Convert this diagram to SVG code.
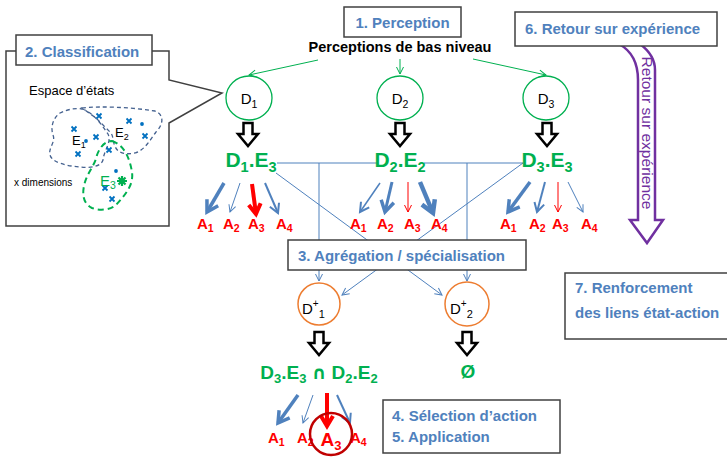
<svg xmlns="http://www.w3.org/2000/svg" xmlns:xlink="http://www.w3.org/1999/xlink" width="727" height="459" viewBox="0 0 727 459">
<style>
  .box{fill:#fff;stroke:#404040;stroke-width:1.5}
  .ttl{font-family:"Liberation Sans",Arial,sans-serif;font-weight:bold;font-size:15px;fill:#4f81bd}
  .blk{fill:#fff;stroke:#000;stroke-width:2.5;stroke-linejoin:miter}
  .dc{fill:#fff;stroke:#00b050;stroke-width:1.3}
  .oc{fill:#fff;stroke:#ed7d31;stroke-width:1.5}
  .dl{font-family:"Liberation Sans",Arial,sans-serif;font-size:15px;fill:#000}
  .de{font-family:"Liberation Sans",Arial,sans-serif;font-weight:bold;font-size:21px;fill:#00b050}
  .a{font-family:"Liberation Sans",Arial,sans-serif;font-weight:bold;font-size:15px;fill:#ff0000}
  .s{font-size:10.5px}
  .s2{font-size:14.5px}
  .ln{fill:none;stroke:#4f81bd;stroke-width:1}
  .xm{stroke:#0070c0;stroke-width:1.8;fill:none}
  .dot{fill:#0070c0}
</style>
<defs>
  <marker id="g" markerUnits="userSpaceOnUse" markerWidth="10" markerHeight="10" refX="0" refY="0" orient="auto" overflow="visible"><path d="M-7,-3.5 L0,0 L-7,3.5" fill="none" stroke="#00b050" stroke-width="1"/></marker>
  <marker id="bt" markerUnits="userSpaceOnUse" markerWidth="10" markerHeight="10" refX="0" refY="0" orient="auto" overflow="visible"><path d="M-7,-3.5 L0,0 L-7,3.5" fill="none" stroke="#4f81bd" stroke-width="1"/></marker>
  <marker id="bm" markerUnits="userSpaceOnUse" markerWidth="10" markerHeight="10" refX="0" refY="0" orient="auto" overflow="visible"><path d="M-9,-5 L0,0 L-9,5" fill="none" stroke="#4f81bd" stroke-width="2"/></marker>
  <marker id="bk" markerUnits="userSpaceOnUse" markerWidth="10" markerHeight="10" refX="0" refY="0" orient="auto" overflow="visible"><path d="M-11,-6.5 L0,0 L-11,6.5" fill="none" stroke="#4f81bd" stroke-width="3.5"/></marker>
  <marker id="bx" markerUnits="userSpaceOnUse" markerWidth="10" markerHeight="10" refX="0" refY="0" orient="auto" overflow="visible"><path d="M-12,-7 L0,0 L-12,7" fill="none" stroke="#4f81bd" stroke-width="4.5"/></marker>
  <marker id="rt" markerUnits="userSpaceOnUse" markerWidth="10" markerHeight="10" refX="0" refY="0" orient="auto" overflow="visible"><path d="M-7,-3.5 L0,0 L-7,3.5" fill="none" stroke="#ff0000" stroke-width="1"/></marker>
  <marker id="rk" markerUnits="userSpaceOnUse" markerWidth="10" markerHeight="10" refX="0" refY="0" orient="auto" overflow="visible"><path d="M-10,-6 L0,0 L-10,6" fill="none" stroke="#ff0000" stroke-width="4"/></marker>
  <path id="ba" d="M-4.5,0 H4.5 V11 H10 L0,23 L-10,11 H-4.5 Z"/>
</defs>
<rect width="727" height="459" fill="#fff"/>

<!-- Classification callout -->
<g id="classification">
  <path class="box" d="M6,51 L169,51 L169,80 L222,93 L169,123 L169,226 L6,226 Z"/>
  <rect class="box" x="16" y="35" width="136" height="30"/>
  <text class="ttl" x="25" y="57">2. Classification</text>
  <text x="29" y="95" font-family="Liberation Sans, Arial, sans-serif" font-size="13" fill="#000">Espace d’états</text>
  <text x="14" y="186" font-family="Liberation Sans, Arial, sans-serif" font-size="10" fill="#000">x dimensions</text>
  <path d="M82,109 C92,112 100,122 108,134 C112,142 104,150 103,160 C101,167 90,168 80,167 C68,166 52,163 50,155 C48,148 56,142 53,135 C50,126 54,117 60,113 C68,109 76,108 82,109 Z" fill="none" stroke="#44618f" stroke-width="1.3" stroke-dasharray="4 3"/>
  <path d="M82,108 C100,106 130,107 155,111 C165,115 163,125 156,132 C150,140 145,150 135,153 C125,155 117,153 115,146 C112,140 114,136 110,132 L96,118 Z" fill="none" stroke="#44618f" stroke-width="1.3" stroke-dasharray="4 3"/>
  <path d="M112,141 C125,145 130,160 132,172 C134,185 125,195 116,205 C110,210 100,211 92,208 C82,203 82,192 85,182 C88,172 95,165 97,155 C100,147 105,141 112,141 Z" fill="none" stroke="#00b050" stroke-width="2" stroke-dasharray="6 4"/>
  <path class="xm" d="M71.5,126.5 l5,5 m0,-5 l-5,5 M96.5,113.5 l5,5 m0,-5 l-5,5 M126.5,118.5 l5,5 m0,-5 l-5,5 M142.5,133.5 l5,5 m0,-5 l-5,5 M93.5,134.5 l5,5 m0,-5 l-5,5 M75.5,151.5 l5,5 m0,-5 l-5,5 M106.5,147.5 l5,5 m0,-5 l-5,5 M102.5,185.5 l5,5 m0,-5 l-5,5 M109.5,196.5 l5,5 m0,-5 l-5,5"/>
  <circle class="dot" cx="86" cy="141" r="1.9"/>
  <circle class="dot" cx="142" cy="124" r="1.9"/>
  <circle class="dot" cx="116" cy="171" r="1.9"/>
  <g stroke="#00b050" stroke-width="2.2">
    <path d="M117,181 h10 M122,176 v10 M118.5,177.5 l7,7 M125.5,177.5 l-7,7"/>
  </g>
  <circle cx="122" cy="181" r="2.5" fill="#00b050"/>
  <text x="72" y="145" font-family="Liberation Sans, Arial, sans-serif" font-size="13" fill="#000">E<tspan font-size="9" dy="3">1</tspan></text>
  <text x="115" y="137" font-family="Liberation Sans, Arial, sans-serif" font-size="13" fill="#000">E<tspan font-size="9" dy="3">2</tspan></text>
  <text x="100" y="186" font-family="Liberation Sans, Arial, sans-serif" font-size="15" fill="#00b050">E<tspan font-size="10.5" dy="3">3</tspan></text>
</g>

<!-- Perception -->
<g id="perception">
  <rect class="box" x="344" y="7" width="117" height="30"/>
  <text class="ttl" x="402.5" y="28" text-anchor="middle">1. Perception</text>
  <text x="400" y="52" text-anchor="middle" font-family="Liberation Sans, Arial, sans-serif" font-weight="bold" font-size="14.5" fill="#000">Perceptions de bas niveau</text>
</g>

<!-- Retour sur experience -->
<g id="retour">
  <path d="M619,44 C630,50 638,62 638,80 L638,220 L630,220 L647,243 L663,220 L655,220 L655,70 C655,58 648,50 640,44 Z" fill="#fff" stroke="#7030a0" stroke-width="2.5" stroke-linejoin="miter"/>
  <text transform="translate(642,133) rotate(90)" text-anchor="middle" font-family="Liberation Sans, Arial, sans-serif" font-size="15" fill="#7030a0" textLength="153" lengthAdjust="spacingAndGlyphs">Retour sur expérience</text>
  <rect class="box" x="515" y="12" width="202" height="34"/>
  <text class="ttl" x="525" y="34">6. Retour sur expérience</text>
</g>

<!-- Renforcement -->
<g id="renforcement">
  <rect class="box" x="565" y="273" width="170" height="66"/>
  <text class="ttl" x="575" y="293">7. Renforcement</text>
  <text class="ttl" x="575" y="318">des liens état-action</text>
</g>

<!-- Connectors -->
<g id="connectors">
  <line x1="318" y1="60" x2="249" y2="75" stroke="#00b050" stroke-width="1" marker-end="url(#g)"/>
  <line x1="400" y1="59" x2="400" y2="74" stroke="#00b050" stroke-width="1" marker-end="url(#g)"/>
  <line x1="473" y1="59" x2="546" y2="75" stroke="#00b050" stroke-width="1" marker-end="url(#g)"/>

  <use href="#ba" xlink:href="#ba" x="248" y="123" class="blk"/>
  <use href="#ba" xlink:href="#ba" x="400" y="123" class="blk"/>
  <use href="#ba" xlink:href="#ba" x="547" y="123" class="blk"/>
  <use href="#ba" xlink:href="#ba" x="319" y="332" class="blk"/>
  <use href="#ba" xlink:href="#ba" x="467" y="332" class="blk"/>

  <!-- D1.E3 actions -->
  <line x1="224" y1="183" x2="207" y2="212" stroke="#4f81bd" stroke-width="3.5" marker-end="url(#bk)"/>
  <line x1="240" y1="183" x2="230" y2="212" stroke="#4f81bd" stroke-width="1" marker-end="url(#bt)"/>
  <line x1="252" y1="184" x2="256" y2="214" stroke="#ff0000" stroke-width="4" marker-end="url(#rk)"/>
  <line x1="265" y1="183" x2="278" y2="213" stroke="#4f81bd" stroke-width="2" marker-end="url(#bm)"/>
  <!-- D2.E2 actions -->
  <line x1="380" y1="183" x2="360" y2="212" stroke="#4f81bd" stroke-width="1.5" marker-end="url(#bm)"/>
  <line x1="392" y1="182" x2="385" y2="212" stroke="#4f81bd" stroke-width="3" marker-end="url(#bk)"/>
  <line x1="408" y1="182" x2="408" y2="212" stroke="#ff0000" stroke-width="1" marker-end="url(#rt)"/>
  <line x1="420" y1="182" x2="433" y2="213" stroke="#4f81bd" stroke-width="4.5" marker-end="url(#bx)"/>
  <!-- D3.E3 actions -->
  <line x1="530" y1="182" x2="508" y2="212" stroke="#4f81bd" stroke-width="3.5" marker-end="url(#bk)"/>
  <line x1="545" y1="182" x2="537" y2="212" stroke="#4f81bd" stroke-width="2" marker-end="url(#bm)"/>
  <line x1="558" y1="182" x2="558" y2="212" stroke="#ff0000" stroke-width="1" marker-end="url(#rt)"/>
  <line x1="568" y1="182" x2="583" y2="212" stroke="#4f81bd" stroke-width="1" marker-end="url(#bt)"/>

  <!-- aggregation links -->
  <line class="ln" x1="277" y1="163" x2="377" y2="163"/>
  <line class="ln" x1="424" y1="163" x2="523" y2="163"/>
  <line class="ln" x1="319" y1="163" x2="319" y2="281" marker-end="url(#bt)"/>
  <line class="ln" x1="467" y1="163" x2="467" y2="281" marker-end="url(#bt)"/>
  <line class="ln" x1="276" y1="173" x2="442" y2="295" marker-end="url(#bt)"/>
  <line class="ln" x1="523" y1="163" x2="342" y2="295" marker-end="url(#bt)"/>

  <!-- selection actions -->
  <line x1="298" y1="395" x2="278" y2="423" stroke="#4f81bd" stroke-width="3.5" marker-end="url(#bk)"/>
  <line x1="313" y1="395" x2="303" y2="423" stroke="#4f81bd" stroke-width="1" marker-end="url(#bt)"/>
  <line x1="327" y1="393" x2="327" y2="426" stroke="#ff0000" stroke-width="4" marker-end="url(#rk)"/>
  <line x1="337" y1="395" x2="350" y2="423" stroke="#4f81bd" stroke-width="2" marker-end="url(#bm)"/>
</g>

<!-- Perception nodes -->
<g id="D1"><ellipse class="dc" cx="249" cy="98" rx="23" ry="22"/><text class="dl" x="249" y="104" text-anchor="middle">D<tspan class="s" dy="4">1</tspan></text></g>
<g id="D2"><ellipse class="dc" cx="400" cy="98" rx="23" ry="22"/><text class="dl" x="400" y="104" text-anchor="middle">D<tspan class="s" dy="4">2</tspan></text></g>
<g id="D3"><ellipse class="dc" cx="546" cy="98" rx="23" ry="22"/><text class="dl" x="546" y="104" text-anchor="middle">D<tspan class="s" dy="4">3</tspan></text></g>

<!-- State labels -->
<g id="D1E3"><text class="de" x="251" y="167" text-anchor="middle">D<tspan class="s2" dy="5">1</tspan><tspan dy="-5">.E</tspan><tspan class="s2" dy="5">3</tspan></text></g>
<g id="D2E2"><text class="de" x="400" y="167" text-anchor="middle">D<tspan class="s2" dy="5">2</tspan><tspan dy="-5">.E</tspan><tspan class="s2" dy="5">2</tspan></text></g>
<g id="D3E3"><text class="de" x="547" y="167" text-anchor="middle">D<tspan class="s2" dy="5">3</tspan><tspan dy="-5">.E</tspan><tspan class="s2" dy="5">3</tspan></text></g>

<!-- Action labels -->
<g id="actions1">
  <text class="a" x="197" y="229">A<tspan class="s" dy="3">1</tspan></text>
  <text class="a" x="223" y="229">A<tspan class="s" dy="3">2</tspan></text>
  <text class="a" x="248" y="229">A<tspan class="s" dy="3">3</tspan></text>
  <text class="a" x="276" y="229">A<tspan class="s" dy="3">4</tspan></text>
</g>
<g id="actions2">
  <text class="a" x="350" y="229">A<tspan class="s" dy="3">1</tspan></text>
  <text class="a" x="377" y="229">A<tspan class="s" dy="3">2</tspan></text>
  <text class="a" x="404" y="229">A<tspan class="s" dy="3">3</tspan></text>
  <text class="a" x="431" y="229">A<tspan class="s" dy="3">4</tspan></text>
</g>
<g id="actions3">
  <text class="a" x="500" y="229">A<tspan class="s" dy="3">1</tspan></text>
  <text class="a" x="529" y="229">A<tspan class="s" dy="3">2</tspan></text>
  <text class="a" x="552" y="229">A<tspan class="s" dy="3">3</tspan></text>
  <text class="a" x="581" y="229">A<tspan class="s" dy="3">4</tspan></text>
</g>

<!-- Aggregation -->
<g id="aggregation">
  <rect class="box" x="288" y="240" width="238" height="30"/>
  <text class="ttl" x="298" y="261">3. Agrégation / spécialisation</text>
</g>

<g id="Dplus1"><circle class="oc" cx="319" cy="304" r="21"/><text class="dl" x="302" y="314">D<tspan font-size="10" dy="-7">+</tspan><tspan font-size="11" dy="11">1</tspan></text></g>
<g id="Dplus2"><circle class="oc" cx="467" cy="304" r="22"/><text class="dl" x="450" y="314">D<tspan font-size="10" dy="-7">+</tspan><tspan font-size="11" dy="11">2</tspan></text></g>

<g id="intersection"><text class="de" x="319" y="379" text-anchor="middle" style="font-size:19px">D<tspan font-size="13" dy="4">3</tspan><tspan dy="-4">.E</tspan><tspan font-size="13" dy="4">3</tspan><tspan dy="-4"> </tspan><tspan font-family="DejaVu Sans, sans-serif" font-size="18">∩</tspan><tspan> D</tspan><tspan font-size="13" dy="4">2</tspan><tspan dy="-4">.E</tspan><tspan font-size="13" dy="4">2</tspan></text></g>
<g id="empty"><text class="de" x="468" y="378" text-anchor="middle" style="font-size:19px">Ø</text></g>

<g id="selection-actions">
  <text class="a" x="268" y="443">A<tspan class="s" dy="3">1</tspan></text>
  <text class="a" x="297" y="443">A<tspan class="s" dy="3">2</tspan></text>
  <text class="a" x="350" y="443">A<tspan class="s" dy="3">4</tspan></text>
  <circle cx="331" cy="434" r="21" fill="none" stroke="#c00000" stroke-width="2.5"/>
  <text class="a" x="331" y="446" text-anchor="middle" style="font-size:19px">A<tspan font-size="13" dy="4">3</tspan></text>
</g>

<g id="selection">
  <rect class="box" x="383" y="400" width="177" height="53"/>
  <text class="ttl" x="392" y="421">4. Sélection d’action</text>
  <text class="ttl" x="392" y="442">5. Application</text>
</g>
</svg>
